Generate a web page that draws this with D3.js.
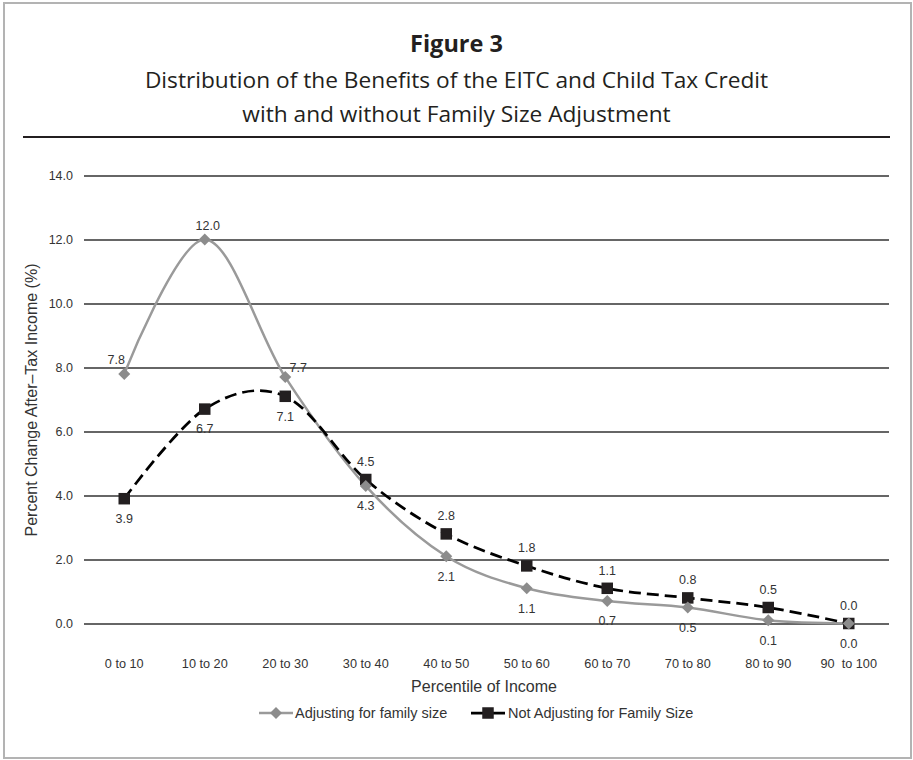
<!DOCTYPE html>
<html>
<head>
<meta charset="utf-8">
<script src="https://cdn.jsdelivr.net/npm/d3@7"></script>
<style>
  html, body { margin: 0; padding: 0; background: #fff; }
  svg { display: block; }
</style>
</head>
<body>
<svg id="chart" width="913" height="760"></svg>
<script>
// Percentile groups along the x axis
const categories = ["0 to 10", "10 to 20", "20 to 30", "30 to 40", "40 to 50",
                    "50 to 60", "60 to 70", "70 to 80", "80 to 90", "90  to 100"];

// Percent change in after-tax income, by series
const adjustingValues    = [7.8, 12.0, 7.7, 4.3, 2.1, 1.1, 0.7, 0.5, 0.1, 0.0];
const notAdjustingValues = [3.9, 6.7, 7.1, 4.5, 2.8, 1.8, 1.1, 0.8, 0.5, 0.0];

// Y axis ticks
const yTicks = [0, 2, 4, 6, 8, 10, 12, 14];

const seriesNames = ["Adjusting for family size", "Not Adjusting for Family Size"];

// Where each value label sits relative to its marker
const adjustingLabelPos    = ["aboveLeft", "top", "right", "below", "below", "below", "below", "below", "below", "below"];
const notAdjustingLabelPos = ["below", "below", "below", "above", "above", "above", "above", "above", "above", "above"];

const svg = d3.select("#chart");
const W = 913, H = 760;
const chartFont = "'Liberation Sans', Arial, sans-serif";
const titleFont = "'Open Sans', 'Noto Sans', sans-serif";
const ink = "#231f20";
const grayLine = "#9a9a9a";
const grayMark = "#8c8c8c";

// Outer frame
svg.append("rect")
  .attr("x", 4).attr("y", 3).attr("width", 907).attr("height", 755)
  .attr("fill", "#fff").attr("stroke", "#b3b3b3").attr("stroke-width", 2);

// Titles
svg.append("text")
  .attr("x", W / 2).attr("y", 52)
  .attr("text-anchor", "middle")
  .attr("font-family", titleFont).attr("font-weight", 700).attr("font-size", 23.5)
  .attr("fill", ink)
  .text("Figure 3");

const subtitle = ["Distribution of the Benefits of the EITC and Child Tax Credit",
                  "with and without Family Size Adjustment"];
svg.append("g").selectAll("text").data(subtitle).join("text")
  .attr("x", W / 2).attr("y", (d, i) => 88 + i * 34)
  .attr("text-anchor", "middle")
  .attr("font-family", titleFont).attr("font-size", 22.7)
  .attr("fill", ink)
  .text(d => d);

svg.append("line")
  .attr("x1", 23).attr("x2", 890).attr("y1", 137).attr("y2", 137)
  .attr("stroke", ink).attr("stroke-width", 2);

// Scales
const x = d3.scaleBand().domain(categories).range([84, 889]).paddingInner(0).paddingOuter(0);
const cx = c => x(c) + x.bandwidth() / 2;
const y = d3.scaleLinear().domain([0, 14]).range([623.5, 175.5]);

// Horizontal gridlines with value labels
const yAxis = d3.axisLeft(y)
  .tickValues(yTicks)
  .tickFormat(d3.format(".1f"))
  .tickSize(-(889 - 84))
  .tickPadding(11);
const gy = svg.append("g").attr("transform", "translate(84,0)").call(yAxis);
gy.select(".domain").remove();
gy.selectAll(".tick line").attr("stroke", "#333").attr("stroke-width", 1.3);
gy.selectAll(".tick text")
  .attr("font-family", chartFont).attr("font-size", 12.5).attr("fill", "#333");

// Category labels
const xAxis = d3.axisBottom(x).tickSize(0).tickPadding(0);
const gx = svg.append("g").attr("transform", "translate(0,664)").call(xAxis);
gx.select(".domain").remove();
gx.selectAll(".tick text")
  .attr("dy", "0.35em").attr("y", 0)
  .attr("font-family", chartFont).attr("font-size", 12.7).attr("fill", "#333")
  .style("white-space", "pre").attr("xml:space", "preserve");

// Axis titles
svg.append("text")
  .attr("x", 484).attr("y", 692)
  .attr("text-anchor", "middle")
  .attr("font-family", chartFont).attr("font-size", 16).attr("fill", "#333")
  .text("Percentile of Income");

svg.append("text")
  .attr("transform", "translate(37,400) rotate(-90)")
  .attr("text-anchor", "middle")
  .attr("font-family", chartFont).attr("font-size", 16).attr("fill", "#333")
  .text("Percent Change After\u2013Tax Income (%)");

// Lines
const line = d3.line()
  .x((d, i) => cx(categories[i]))
  .y(d => y(d))
  .curve(d3.curveCardinal.tension(0));

svg.append("path").datum(adjustingValues)
  .attr("d", line).attr("fill", "none")
  .attr("stroke", grayLine).attr("stroke-width", 2.5);

svg.append("path").datum(notAdjustingValues)
  .attr("d", line).attr("fill", "none")
  .attr("stroke", "#000").attr("stroke-width", 2.75)
  .attr("stroke-dasharray", "12,6");

// Markers
const diamond = (s) => `M0,${-s}L${s},0L0,${s}L${-s},0Z`;

function drawDiamond(g, px, py) {
  g.append("path").attr("transform", `translate(${px},${py})`)
    .attr("d", diamond(6)).attr("fill", grayMark);
}
function drawSquare(g, px, py) {
  g.append("rect").attr("x", px - 5.75).attr("y", py - 5.75)
    .attr("width", 11.5).attr("height", 11.5).attr("fill", ink);
}

const marks = svg.append("g");
notAdjustingValues.forEach((v, i) => drawSquare(marks, cx(categories[i]), y(v)));
adjustingValues.forEach((v, i) => drawDiamond(marks, cx(categories[i]), y(v)));

// Value labels
const offsets = {
  above:     [0, -18],
  below:     [0, 20],
  top:       [3, -14],
  aboveLeft: [-8, -14],
  right:     [13, -9]
};
function drawLabels(values, positions) {
  svg.append("g").selectAll("text").data(values).join("text")
    .attr("x", (d, i) => cx(categories[i]) + offsets[positions[i]][0])
    .attr("y", (d, i) => y(d) + offsets[positions[i]][1])
    .attr("dy", "0.35em")
    .attr("text-anchor", "middle")
    .attr("font-family", chartFont).attr("font-size", 12.5).attr("fill", "#333")
    .text(d => d3.format(".1f")(d));
}
drawLabels(adjustingValues, adjustingLabelPos);
drawLabels(notAdjustingValues, notAdjustingLabelPos);

// Legend
const legendY = 713;
const lg = svg.append("g");
lg.append("line").attr("x1", 259).attr("x2", 293).attr("y1", legendY).attr("y2", legendY)
  .attr("stroke", grayLine).attr("stroke-width", 2.5);
drawDiamond(lg, 276, legendY);
lg.append("text").attr("x", 295).attr("y", legendY).attr("dy", "0.35em")
  .attr("font-family", chartFont).attr("font-size", 14.5).attr("fill", "#333")
  .text(seriesNames[0]);

lg.append("line").attr("x1", 471).attr("x2", 505).attr("y1", legendY).attr("y2", legendY)
  .attr("stroke", "#000").attr("stroke-width", 2.75);
drawSquare(lg, 488, legendY);
lg.append("text").attr("x", 508).attr("y", legendY).attr("dy", "0.35em")
  .attr("font-family", chartFont).attr("font-size", 14.5).attr("fill", "#333")
  .text(seriesNames[1]);
</script>
</body>
</html>
